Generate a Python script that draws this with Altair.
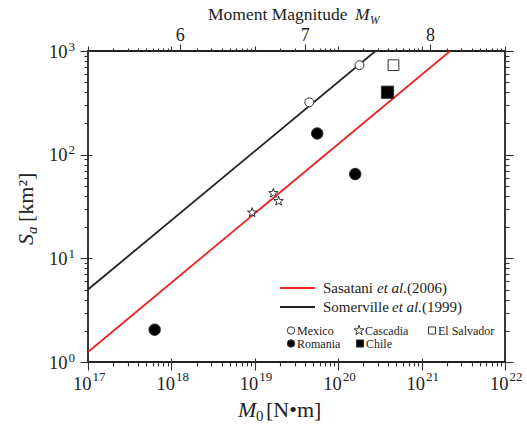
import altair as alt
import pandas as pd

# ---------------- data ----------------
line_authors = ["Sasatani", "Somerville"]
line_years = ["(2006)", "(1999)"]
sasatani_m0 = [1e17, 2.2e21]
sasatani_sa = [1.25, 1000]
somerville_m0 = [1e17, 2.8e20]
somerville_sa = [5.0, 1000]

regions = ["Mexico", "Cascadia", "El Salvador", "Romania", "Chile"]
mexico_m0 = [4.5e19, 1.8e20]
mexico_sa = [320, 730]
cascadia_m0 = [9.3e18, 1.67e19, 1.93e19]
cascadia_sa = [27.6, 42.5, 35.6]
elsalvador_m0 = [4.6e20]
elsalvador_sa = [730]
romania_m0 = [6.3e17, 5.6e19, 1.6e20]
romania_sa = [2.05, 160, 65]
chile_m0 = [3.9e20]
chile_sa = [400]

x_ticks = [1e17, 1e18, 1e19, 1e20, 1e21, 1e22]
x_exp_labels = ["17", "18", "19", "20", "21", "22"]
y_ticks = [1, 10, 100, 1000]
y_exp_labels = ["0", "1", "2", "3"]
mw_ticks = [6, 7, 8]
mw_labels = ["6", "7", "8"]

# ---------------- style ----------------
FONT = "Liberation Serif, Times New Roman, Times, DejaVu Serif, serif"
INK = "#222222"
TICK = "#333333"
RED = "#ee2424"
STAR = ("M0,-1L0.235,-0.324L0.951,-0.309L0.38,0.124L0.588,0.809L0,0.4"
        "L-0.588,0.809L-0.38,0.124L-0.951,-0.309L-0.235,-0.324Z")
region_shape = ["circle", STAR, "square", "circle", "square"]
region_fill = ["white", "white", "white", "black", "black"]
region_size = [80, 150, 75, 80, 75]

lines_df = pd.DataFrame({
    "m0": sasatani_m0 + somerville_m0,
    "sa": sasatani_sa + somerville_sa,
    "series": [line_authors[0]] * 2 + [line_authors[1]] * 2,
})

pts = []
for name, m0, sa in [("Mexico", mexico_m0, mexico_sa), ("Cascadia", cascadia_m0, cascadia_sa),
                     ("El Salvador", elsalvador_m0, elsalvador_sa), ("Romania", romania_m0, romania_sa),
                     ("Chile", chile_m0, chile_sa)]:
    for a, b in zip(m0, sa):
        pts.append({"m0": a, "sa": b, "region": name})
pts_df = pd.DataFrame(pts)

XS = alt.Scale(type="log", domain=[1e17, 1e22], nice=False)
YS = alt.Scale(type="log", domain=[1, 1000], nice=False)


def ax(**kw):
    base = dict(grid=False, domain=False, title=None, labelFlush=False, labelOverlap=False,
                labelBound=False, tickColor=TICK, tickWidth=1.1, labelFont=FONT, labelColor=INK)
    base.update(kw)
    return alt.Axis(**base)


minor_x = [k * 10 ** e for e in range(17, 22) for k in range(2, 10)]
minor_y = [k * 10 ** e for e in range(0, 3) for k in range(2, 10)]
mw_pos = [10 ** (1.5 * m + 9.1) for m in mw_ticks]

x_exp_expr = "[" + ",".join("'%s'" % s for s in x_exp_labels) + "][round(log(datum.value)/LN10) - 17]"
y_exp_expr = "[" + ",".join("'%s'" % s for s in y_exp_labels) + "][round(log(datum.value)/LN10)]"
mw_expr = "[" + ",".join("'%s'" % s for s in mw_labels) + "][round((log(datum.value)/LN10 - 9.1)/1.5) - 6]"

layers = []

# regression lines + major axes with "10" labels
layers.append(alt.Chart(lines_df).mark_line(strokeWidth=1.8, clip=True).encode(
    x=alt.X("m0:Q", scale=XS, axis=ax(orient="bottom", values=x_ticks, tickSize=12, offset=-4,
                                     labelExpr="'10'", labelFontSize=18.5, labelAlign="right",
                                     labelOffset=3, labelPadding=4, labelBaseline="top")),
    y=alt.Y("sa:Q", scale=YS, axis=ax(orient="left", values=y_ticks, tickSize=12, offset=-4,
                                     labelExpr="'10'", labelFontSize=18.5, labelAlign="right",
                                     labelPadding=13, labelBaseline="middle")),
    color=alt.Color("series:N", scale=alt.Scale(domain=line_authors, range=[RED, INK]), legend=None),
))

# data points + exponent labels
layers.append(alt.Chart(pts_df).mark_point(filled=True, stroke="#333333", strokeWidth=1, opacity=1).encode(
    x=alt.X("m0:Q", scale=XS, axis=ax(orient="bottom", values=x_ticks, ticks=False, tickSize=0,
                                     labelExpr=x_exp_expr, labelFontSize=13, labelAlign="left",
                                     labelOffset=4, labelPadding=8, labelBaseline="top")),
    y=alt.Y("sa:Q", scale=YS, axis=ax(orient="left", values=y_ticks, ticks=False, tickSize=0,
                                     labelExpr=y_exp_expr, labelFontSize=13, labelAlign="left",
                                     labelPadding=20, labelOffset=-5, labelBaseline="middle")),
    shape=alt.Shape("region:N", scale=alt.Scale(domain=regions, range=region_shape), legend=None),
    fill=alt.Fill("region:N", scale=alt.Scale(domain=regions, range=region_fill), legend=None),
    size=alt.Size("region:N", scale=alt.Scale(domain=regions, range=region_size), legend=None),
))

# minor ticks bottom / left
layers.append(alt.Chart(lines_df).mark_point(opacity=0).encode(
    x=alt.X("m0:Q", scale=XS, axis=ax(orient="bottom", values=minor_x, tickSize=4, labels=False)),
    y=alt.Y("sa:Q", scale=YS, axis=ax(orient="left", values=minor_y, tickSize=4, labels=False)),
))
# top decade ticks / right major ticks
layers.append(alt.Chart(lines_df).mark_point(opacity=0).encode(
    x=alt.X("m0:Q", scale=XS, axis=ax(orient="top", values=x_ticks, tickSize=5, labels=False)),
    y=alt.Y("sa:Q", scale=YS, axis=ax(orient="right", values=y_ticks, tickSize=8, labels=False)),
))
# top minor / right minor
layers.append(alt.Chart(lines_df).mark_point(opacity=0).encode(
    x=alt.X("m0:Q", scale=XS, axis=ax(orient="top", values=minor_x, tickSize=3, labels=False)),
    y=alt.Y("sa:Q", scale=YS, axis=ax(orient="right", values=minor_y, tickSize=4, labels=False)),
))
# top moment magnitude axis
layers.append(alt.Chart(lines_df).mark_point(opacity=0).encode(
    x=alt.X("m0:Q", scale=XS, axis=ax(orient="top", values=mw_pos, tickSize=7, labelExpr=mw_expr,
                                     labelFontSize=18, labelPadding=0, labelAlign="center")),
    y=alt.Y("sa:Q", scale=YS, axis=None),
))


def txt(x, y, text, size, style="normal", align="left", baseline="alphabetic", angle=0, color=INK):
    return alt.Chart(pd.DataFrame({"t": [text]})).mark_text(
        align=align, baseline=baseline, font=FONT, fontSize=size, fontStyle=style,
        angle=angle, color=color).encode(x=alt.value(x), y=alt.value(y), text="t:N")


# titles (plot-area pixel coordinates)
layers += [
    txt(120, -31, "Moment Magnitude", 17.5),
    txt(267, -31, "M", 17.5, "italic"),
    txt(282, -27, "W", 11.5, "italic"),
    txt(150, 366, "M", 22, "italic"),
    txt(168, 370, "0", 15),
    txt(178, 366, "[N\u2022m]", 22),
    txt(-55, 194, "S", 22, "italic", angle=270),
    txt(-51, 183, "a", 15, "italic", angle=270),
    txt(-55, 171, "[km\u00b2]", 22, angle=270),
]

# legend: lines
for i, (col, yy) in enumerate([(RED, 237), (INK, 256)]):
    layers.append(alt.Chart(pd.DataFrame({"k": [i]})).mark_rule(color=col, strokeWidth=2).encode(
        x=alt.value(192), x2=alt.value(227), y=alt.value(yy)))
layers += [
    txt(235, 242, line_authors[0], 15),
    txt(289, 242, "et al.", 15, "italic"),
    txt(319, 242, line_years[0], 15),
    txt(235, 261, line_authors[1], 15),
    txt(304, 261, "et al.", 15, "italic"),
    txt(334, 261, line_years[1], 15),
]

# legend: symbols
leg_pos = [(203, 279.5), (271, 279.5), (344, 279.5), (203, 292.5), (272, 292.5)]
leg_size = [55, 110, 50, 55, 50]
for name, shp, fl, sz, (px, py) in zip(regions, region_shape, region_fill, leg_size, leg_pos):
    layers.append(alt.Chart(pd.DataFrame({"r": [name]})).mark_point(
        shape=shp, filled=True, fill=fl, stroke="#333333", strokeWidth=1, size=sz, opacity=1
    ).encode(x=alt.value(px), y=alt.value(py)))
    layers.append(txt(px + 6, py, name, 12, baseline="middle"))

chart = alt.layer(*layers).resolve_axis(x="independent", y="independent").properties(
    width=417, height=311,
    padding={"left": 88, "top": 51, "right": 22, "bottom": 63},
    autosize=alt.AutoSizeParams(type="none"),
).configure_view(stroke=INK, strokeWidth=1.8)

chart.save("out.html", embed_options={"renderer": "svg", "actions": False})
